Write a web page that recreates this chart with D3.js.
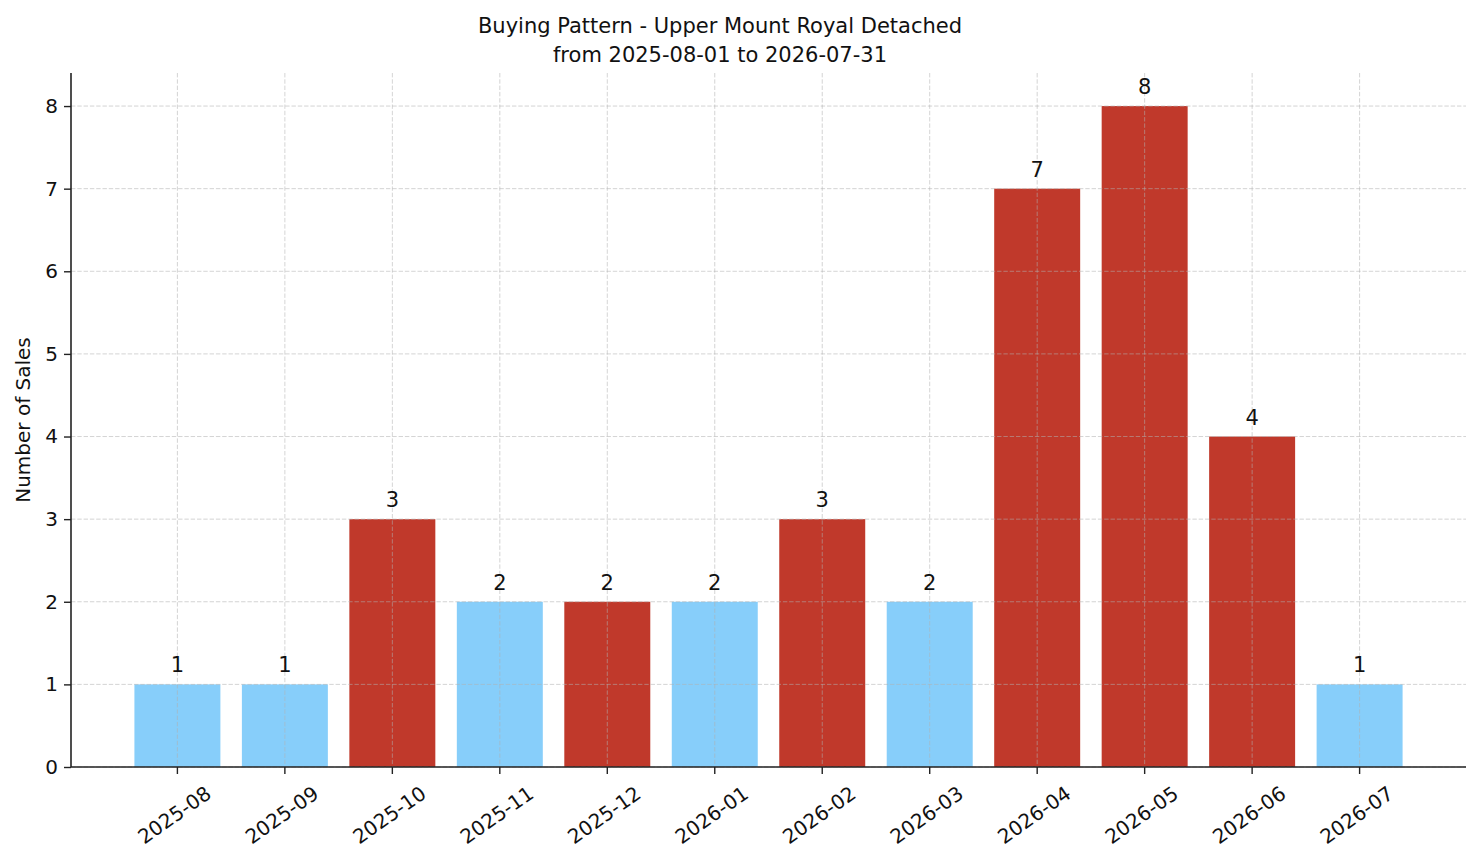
<!DOCTYPE html>
<html>
<head>
<meta charset="utf-8">
<script src="https://cdn.jsdelivr.net/npm/d3@7"></script>
<style>
  body { margin: 0; background: #fff; }
  svg { font-family: "DejaVu Sans", sans-serif; }
  .axis path, .axis line { stroke: #222; }
  .axis text { fill: #111; }
</style>
</head>
<body>
<svg id="chart"></svg>
<script>
// Monthly sales counts
const months = ["2025-08", "2025-09", "2025-10", "2025-11", "2025-12", "2026-01",
                "2026-02", "2026-03", "2026-04", "2026-05", "2026-06", "2026-07"];
const sales = [1, 1, 3, 2, 2, 2, 3, 2, 7, 8, 4, 1];
// months shown in the highlight colour
const hotMonths = ["2025-10", "2025-12", "2026-02", "2026-04", "2026-05", "2026-06"];
const yTicks = [0, 1, 2, 3, 4, 5, 6, 7, 8];
const titleLines = ["Buying Pattern - Upper Mount Royal Detached", "from 2025-08-01 to 2026-07-31"];

const config = {
  width: 1481,
  height: 863,
  margin: { top: 73, right: 15, bottom: 96, left: 71 },
  blue: "#87cefa",
  red: "#c0392b",
};

const data = months.map((m, i) => ({ month: m, count: sales[i], hot: hotMonths.includes(m) }));

const innerW = config.width - config.margin.left - config.margin.right;
const innerH = config.height - config.margin.top - config.margin.bottom;

const svg = d3.select("#chart")
  .attr("width", config.width)
  .attr("height", config.height);

const chart = svg.append("g")
  .attr("transform", `translate(${config.margin.left},${config.margin.top})`);

// Scales: bars are 0.8 wide, with matplotlib-like outer margins
const xScale = d3.scaleBand()
  .domain(months)
  .range([0, innerW])
  .paddingInner(0.2)
  .paddingOuter(0.59);

const yScale = d3.scaleLinear()
  .domain([0, d3.max(sales) * 1.05])
  .range([innerH, 0]);

// Bars
chart.selectAll("rect.bar")
  .data(data)
  .join("rect")
  .attr("class", "bar")
  .attr("x", d => xScale(d.month))
  .attr("y", d => yScale(d.count))
  .attr("width", xScale.bandwidth())
  .attr("height", d => innerH - yScale(d.count))
  .style("fill", d => d.hot ? config.red : config.blue);

// Grid lines (drawn above the bars, as in the original)
const grid = chart.append("g").attr("class", "grid");
grid.selectAll("line.h")
  .data(yTicks)
  .join("line")
  .attr("class", "h")
  .attr("x1", 0).attr("x2", innerW)
  .attr("y1", d => yScale(d)).attr("y2", d => yScale(d));
grid.selectAll("line.v")
  .data(months)
  .join("line")
  .attr("class", "v")
  .attr("x1", d => xScale(d) + xScale.bandwidth() / 2)
  .attr("x2", d => xScale(d) + xScale.bandwidth() / 2)
  .attr("y1", 0).attr("y2", innerH);
grid.selectAll("line")
  .attr("stroke", "#b0b0b0")
  .attr("stroke-opacity", 0.55)
  .attr("stroke-width", 1)
  .attr("stroke-dasharray", "4.4,1.9");

// Value labels
chart.selectAll("text.value")
  .data(data)
  .join("text")
  .attr("class", "value")
  .attr("x", d => xScale(d.month) + xScale.bandwidth() / 2)
  .attr("y", d => yScale(d.count) - 12)
  .attr("text-anchor", "middle")
  .style("font-size", "21px")
  .style("fill", "#111")
  .text(d => d.count);

// Axes
const xAxis = d3.axisBottom(xScale).tickSize(7).tickSizeOuter(0);
const yAxis = d3.axisLeft(yScale).tickValues(yTicks).tickSize(7).tickPadding(6).tickSizeOuter(0);

const xAxisG = chart.append("g")
  .attr("class", "axis x-axis")
  .attr("transform", `translate(0,${innerH})`)
  .call(xAxis)
  .attr("font-family", "DejaVu Sans")
  .attr("font-size", 20);
xAxisG.select(".domain").attr("d", `M0,0H${innerW}`);
xAxisG.selectAll(".tick text")
  .attr("text-anchor", "middle")
  .attr("y", 0)
  .attr("dy", "0.35em")
  .attr("transform", "translate(-3,48) rotate(-35)");

const yAxisG = chart.append("g")
  .attr("class", "axis y-axis")
  .call(yAxis)
  .attr("font-family", "DejaVu Sans")
  .attr("font-size", 20);
yAxisG.select(".domain").attr("d", `M0,${innerH}V0`);

chart.selectAll(".axis .domain").attr("stroke-width", 1.6);
chart.selectAll(".axis .tick line").attr("stroke-width", 1.4);

// Axis title
svg.append("text")
  .attr("class", "axis-title")
  .attr("transform", `translate(30,${config.margin.top + innerH / 2}) rotate(-90)`)
  .attr("text-anchor", "middle")
  .style("font-size", "20px")
  .style("fill", "#111")
  .text("Number of Sales");

// Two-line title
svg.append("g")
  .selectAll("text")
  .data(titleLines)
  .join("text")
  .attr("x", 720)
  .attr("y", (d, i) => 33 + i * 29)
  .attr("text-anchor", "middle")
  .style("font-size", "21px")
  .style("fill", "#111")
  .text(d => d);
</script>
</body>
</html>
